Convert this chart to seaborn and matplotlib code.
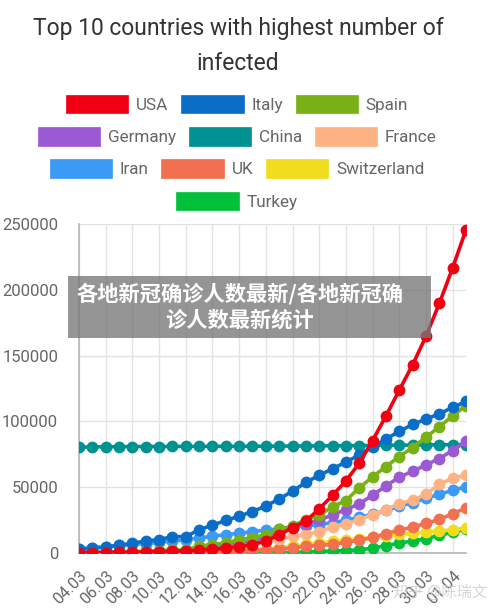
import matplotlib
matplotlib.use("Agg")
import matplotlib.pyplot as plt
from matplotlib.patches import Patch, Rectangle
import seaborn as sns
import pandas as pd

sns.set_style("white")
plt.rcParams['font.family'] = ['Roboto', 'Noto Sans CJK SC', 'DejaVu Sans']

dates = ["04.03", "05.03", "06.03", "07.03", "08.03", "09.03", "10.03", "11.03", "12.03", "13.03",
         "14.03", "15.03", "16.03", "17.03", "18.03", "19.03", "20.03", "21.03", "22.03", "23.03",
         "24.03", "25.03", "26.03", "27.03", "28.03", "29.03", "30.03", "31.03", "01.04", "02.04"]

countries = ["USA", "Italy", "Spain", "Germany", "China", "France", "Iran", "UK", "Switzerland", "Turkey"]
colors = ["#f00010", "#0a6ec8", "#78b015", "#9c5ad2", "#009292", "#ffb384",
          "#3a9af5", "#f07050", "#f2dc1e", "#02c03a"]

usa = [153, 221, 319, 435, 541, 704, 994, 1301, 1630, 2183, 2770, 3613, 4596, 6344, 9197, 13779,
       19367, 24192, 33592, 43781, 54856, 68211, 85435, 104126, 123750, 143025, 164620, 189618,
       216722, 245540]
italy = [3089, 3858, 4636, 5883, 7375, 9172, 10149, 12462, 12462, 17660, 21157, 24747, 27980, 31506,
         35713, 41035, 47021, 53578, 59138, 63927, 69176, 74386, 80589, 86498, 92472, 97689, 101739,
         105792, 110574, 115242]
spain = [222, 259, 400, 500, 673, 1073, 1695, 2277, 2277, 5232, 6391, 7798, 9942, 11748, 13910,
         17963, 20410, 25374, 28603, 35136, 39885, 49515, 57786, 65719, 73235, 80110, 87956, 95923,
         104118, 112065]
germany = [262, 482, 670, 799, 1040, 1176, 1457, 1908, 2078, 3675, 4585, 5795, 7272, 9257, 12327,
           15320, 19848, 22213, 24873, 29056, 32986, 37323, 43938, 50871, 57695, 62095, 66885, 71808,
           77872, 84794]
china = [80422, 80565, 80710, 80813, 80859, 80904, 80924, 80955, 80992, 81003, 81021, 81048, 81077,
         81120, 81163, 81220, 81281, 81347, 81397, 81465, 81548, 81619, 81733, 81825, 81923, 81987,
         82164, 82279, 82361, 82432]
france = [285, 423, 653, 949, 1126, 1209, 1784, 2281, 2281, 3661, 4469, 4499, 6633, 7652, 9043,
          10871, 12612, 14282, 16018, 19856, 22304, 25233, 29155, 32964, 37575, 40174, 44550, 52128,
          56989, 59105]
iran = [2922, 3513, 4747, 5823, 6566, 7161, 8042, 9000, 10075, 11364, 12729, 13938, 14991, 16169,
        17361, 18407, 19644, 20610, 21638, 23049, 24811, 27017, 29406, 32332, 35408, 38309, 41495,
        44605, 47593, 50468]
uk = [87, 116, 164, 207, 274, 322, 384, 459, 459, 802, 1144, 1145, 1551, 1960, 2642, 2716, 4014,
      5067, 5745, 6726, 8164, 9640, 11812, 14745, 17312, 19780, 22453, 25481, 29865, 34173]
switzerland = [90, 114, 214, 268, 337, 374, 491, 652, 652, 1139, 1359, 2200, 2200, 2700, 3028, 4075,
               5294, 6575, 7474, 8795, 9877, 10897, 11811, 12928, 14076, 14829, 15922, 16605, 17768,
               18827]
turkey = [0, 0, 0, 0, 0, 0, 0, 1, 1, 5, 5, 6, 18, 47, 98, 192, 359, 670, 1236, 1529, 1872, 2433,
          3629, 5698, 7402, 9217, 10827, 13531, 15679, 18135]

series = [usa, italy, spain, germany, china, france, iran, uk, switzerland, turkey]
y_ticks = [0, 50000, 100000, 150000, 200000, 250000]

rows = []
for name, vals in zip(countries, series):
    for i, v in enumerate(vals):
        rows.append({"idx": i, "date": dates[i], "country": name, "cases": v})
df = pd.DataFrame(rows)

W, H = 500, 615
fig = plt.figure(figsize=(5, 6.15), dpi=100)
ax = fig.add_axes([79 / W, (H - 553) / H, (466 - 79) / W, (553 - 224) / H])

palette = dict(zip(countries, colors))
# first dataset drawn on top (Chart.js style) -> draw in reverse order
for name in reversed(countries):
    sub = df[df.country == name]
    sns.lineplot(data=sub, x="idx", y="cases", ax=ax, color=palette[name], linewidth=2.6,
                 marker="o", markersize=8.5, markeredgewidth=0, legend=False, zorder=3)

ax.set_xlim(0, len(dates) - 1)
ax.set_ylim(0, 250000)
xt = list(range(0, len(dates), 2))
ax.set_xticks(xt)
ax.set_xticklabels([dates[i] for i in xt], rotation=45, ha="right", rotation_mode="anchor",
                   fontsize=11.5, color="#666666")
ax.set_yticks(y_ticks)
ax.set_yticklabels([str(v) for v in y_ticks], fontsize=12, color="#666666")
ax.set_xlabel("")
ax.set_ylabel("")
ax.grid(True, color="#e3e3e3", linewidth=1)
ax.set_axisbelow(True)
for s in ["top", "right"]:
    ax.spines[s].set_visible(False)
ax.spines["left"].set_color("#b5b5b5")
ax.spines["bottom"].set_color("#b5b5b5")
ax.spines["left"].set_linewidth(1.2)
ax.spines["bottom"].set_linewidth(1.2)
ax.tick_params(axis="both", which="both", length=8, width=1, color="#e3e3e3", pad=3)
ax.tick_params(axis="y", length=12)

# title
fig.text(238 / W, 1 - 28 / H, "Top 10 countries with highest number of", ha="center", va="center",
         fontsize=16.5, color="#333333")
fig.text(238 / W, 1 - 64 / H, "infected", ha="center", va="center", fontsize=16.5, color="#333333")

# legend rows (centered individually)
legend_rows = [countries[0:3], countries[3:6], countries[6:9], countries[9:10]]
row_y = [104, 136.5, 168.5, 201]
for names, yy in zip(legend_rows, row_y):
    handles = [Patch(facecolor=palette[n], edgecolor=palette[n], linewidth=0.5) for n in names]
    leg = fig.legend(handles, names, loc="center", bbox_to_anchor=(237 / W, 1 - yy / H),
                     ncol=len(names), frameon=False, fontsize=12.3, handlelength=3.65,
                     handleheight=1.25, handletextpad=0.45, columnspacing=0.75, borderpad=0,
                     borderaxespad=0)
    for t in leg.get_texts():
        t.set_color("#666666")

# overlay banner
fig.patches.append(Rectangle((68 / W, 1 - 338 / H), (431 - 68) / W, (338 - 276) / H,
                             transform=fig.transFigure, facecolor="#777777", alpha=0.78,
                             edgecolor="none", zorder=10))
fig.text(240 / W, 1 - 294 / H, "各地新冠确诊人数最新/各地新冠确", ha="center", va="center",
         fontsize=15.3, color="white", fontweight="bold", zorder=11,
         family=["Noto Sans CJK SC", "DejaVu Sans"])
fig.text(240 / W, 1 - 320 / H, "诊人数最新统计", ha="center", va="center",
         fontsize=15.3, color="white", fontweight="bold", zorder=11,
         family=["Noto Sans CJK SC", "DejaVu Sans"])

# watermark
fig.text(440 / W, 1 - 592 / H, "知乎 @陈瑞文", ha="center", va="center", fontsize=11,
         color="#cccccc", alpha=0.8, zorder=11, family=["Noto Sans CJK SC", "DejaVu Sans"])

fig.savefig("out.png", dpi=100)
